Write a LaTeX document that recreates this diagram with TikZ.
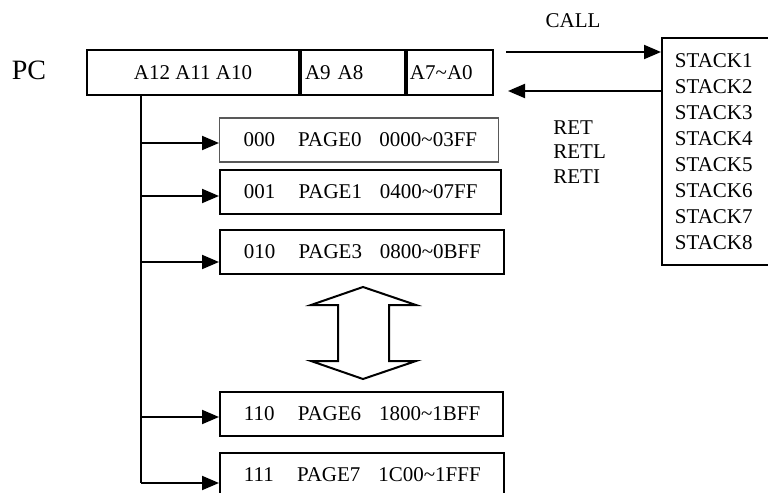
\documentclass[tikz,border=0pt]{standalone}
\usepackage{fontspec}
\setmainfont{Liberation Serif}
\usetikzlibrary{arrows.meta}

\tikzset{
  txt/.style={font=\fontsize{10.5}{13}\selectfont, inner sep=0pt},
  field/.style={txt, draw, line width=1pt, anchor=west, minimum height=22.5pt},
  pagebox/.style={txt, draw, line width=1pt, anchor=west, minimum height=22pt, align=left},
  feed/.style={line width=1pt, -{Triangle[length=8.5pt,width=7pt]}},
}

\begin{document}
\begin{tikzpicture}[x=0.5pt, y=-0.5pt]

\useasboundingbox ( 0, 0 ) rectangle ( 768, 493 );
\clip ( 0, 0 ) rectangle ( 768, 493 );

%% Program counter
\node [font=\fontsize{14}{16}\selectfont] (pc) at ( 29, 70 ) {PC};
\node [field, minimum width=106pt] (hi) at ( 86, 72.5 ) {A12 A11 A10};
\node [field, minimum width=52pt, text width=52pt, align=left] (mid) at (hi.east) {\hspace*{2pt}A9 A8};
\node [field, minimum width=43pt, text width=43pt, align=left] (lo) at (mid.east) {\hspace*{1.5pt}A7\textasciitilde A0};

%% Pages
\node [pagebox, draw=black!65, line width=0.6pt, text width=139.5pt] (p0) at ( 219, 140 ) {\hspace*{12pt}000\hspace{1.1em}PAGE0\hspace{0.85em}0000\textasciitilde 03FF};
\node [pagebox, text width=140.5pt] (p1) at ( 219, 192 ) {\hspace*{12pt}001\hspace{1.1em}PAGE1\hspace{0.85em}0400\textasciitilde 07FF};
\node [pagebox, text width=142pt] (p2) at ( 219, 252 ) {\hspace*{12pt}010\hspace{1.1em}PAGE3\hspace{0.85em}0800\textasciitilde 0BFF};
\node [pagebox, text width=141.5pt] (p6) at ( 219, 414 ) {\hspace*{12pt}110\hspace{1.1em}PAGE6\hspace{0.85em}1800\textasciitilde 1BFF};
\node [pagebox, text width=142pt] (p7) at ( 219, 475 ) {\hspace*{12pt}111\hspace{1.1em}PAGE7\hspace{0.85em}1C00\textasciitilde 1FFF};

% Page select lines
\coordinate (top) at ( 141, 95 );
\coordinate (t0) at ( 141, 143 );
\coordinate (t1) at ( 141, 196 );
\coordinate (t2) at ( 141, 262 );
\coordinate (t6) at ( 141, 417 );
\coordinate (t7) at ( 141, 483 );
\draw [line width=1pt] (top) -- (t7);
\foreach \p in {0,1,2,6,7}
  \draw [feed] (t\p) -- (t\p -| p\p.west);

% Up/down arrow
\draw [line width=1pt] ( 363, 287 ) -- ( 416, 305 ) -- ( 389, 305 ) -- ( 389, 361 ) -- ( 416, 361 ) -- ( 363, 379 ) -- ( 311, 361 ) -- ( 338, 361 ) -- ( 338, 305 ) -- ( 311, 305 ) -- cycle;

%% Stack
\node [draw, line width=1pt, anchor=north west, minimum width=100pt, minimum height=113.5pt, inner xsep=6.5pt, inner ysep=0pt, text width=87pt, align=left, font=\fontsize{10.5}{13}\selectfont] (stack) at ( 661, 37 ) {STACK1\\STACK2\\STACK3\\STACK4\\STACK5\\STACK6\\STACK7\\STACK8};

\coordinate (call) at ( 506, 52 );
\coordinate (ret) at ( 508, 91 );
\draw [feed] (call) -- (call -| stack.west);
\draw [feed] (ret -| stack.west) -- (ret);

%% Labels
\node [txt] (calltxt) at ( 573, 21 ) {CALL};
\node [txt, anchor=west, align=left, font=\fontsize{10.5}{12.3}\selectfont] (rettxt) at ( 553, 152 ) {RET\\RETL\\RETI};

\end{tikzpicture}
\end{document}
